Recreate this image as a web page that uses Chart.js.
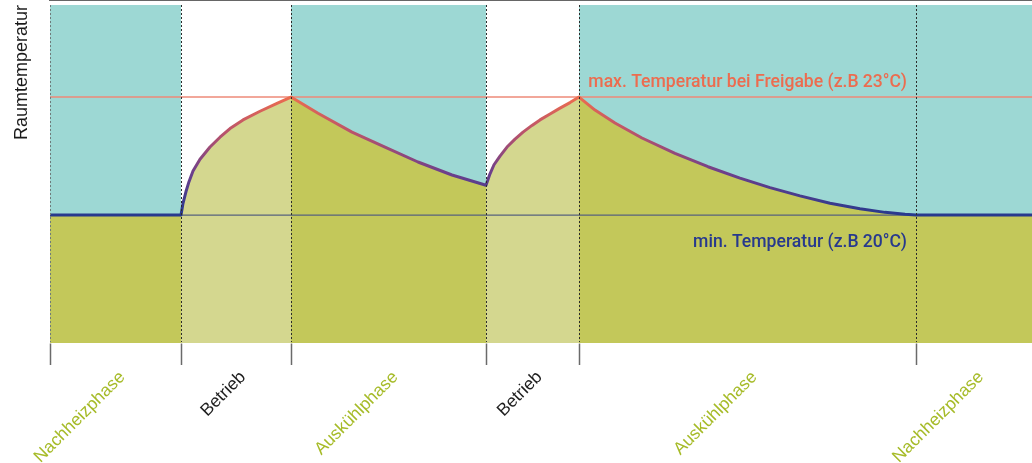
<!DOCTYPE html>
<html>
<head>
<meta charset="utf-8">
<script src="https://cdn.jsdelivr.net/npm/chart.js@4"></script>
<style>
  body { margin: 0; background: #fff; }
  #wrap { width: 1032px; height: 463px; position: relative; }
</style>
</head>
<body>
<div id="wrap"><canvas id="c"></canvas></div>
<script>
// phase boundaries (time axis) and names
const phaseBounds = [0, 131, 241, 436, 529, 866, 982];
const phaseNames = ['Nachheizphase', 'Betrieb', 'Auskühlphase', 'Betrieb', 'Auskühlphase', 'Nachheizphase'];

// room temperature curve
const timeX = [0, 131, 133, 136, 139, 143, 150, 160, 170, 180, 193, 210, 227, 241,
  268, 302, 335, 368, 402, 436,
  440, 444, 450, 457, 465, 473, 482, 490, 500, 510, 520, 529,
  545, 565, 592, 625, 658, 690, 720, 750, 780, 810, 835, 855, 866, 982];
const tempY = [20, 20, 20.3, 20.6, 20.85, 21.12, 21.42, 21.73, 21.98, 22.2, 22.42, 22.64, 22.84, 23.0,
  22.59, 22.11, 21.73, 21.35, 21.02, 20.76,
  21.05, 21.28, 21.5, 21.73, 21.93, 22.11, 22.28, 22.42, 22.57, 22.72, 22.86, 23.0,
  22.67, 22.34, 21.96, 21.57, 21.23, 20.94, 20.70, 20.49, 20.30, 20.16, 20.07, 20.02, 20.0, 20];

const minTemp = 20;
const maxTemp = 23;
const labelMax = 'max. Temperatur bei Freigabe (z.B 23°C)';
const labelMin = 'min. Temperatur (z.B 20°C)';

const TEAL = '#9dd8d4', OLIVE = '#c3c85a', OLIVE_LIGHT = '#d4d78f';
const NAVY = '#27398d', CORAL = '#ec6c4f', GREEN_TXT = '#a6bb28';

const curve = timeX.map((x, i) => ({ x: x, y: tempY[i] }));
// label anchors sit a little right of each phase middle
const phaseMid = phaseNames.map((n, i) => (phaseBounds[i] + phaseBounds[i + 1]) / 2 + 7);

function inBetrieb(x) {
  for (let i = 0; i < phaseNames.length; i++) {
    if (phaseNames[i] === 'Betrieb' && x >= phaseBounds[i] && x < phaseBounds[i + 1]) return true;
  }
  return false;
}

let grad = null;
function lineGradient(ctx) {
  const chart = ctx.chart;
  const area = chart.chartArea;
  if (!area) return NAVY;
  const y = chart.scales.y;
  if (!grad) {
    const g = chart.ctx.createLinearGradient(0, y.getPixelForValue(minTemp), 0, y.getPixelForValue(maxTemp));
    g.addColorStop(0, NAVY);
    g.addColorStop(0.35, '#6b3f8c');
    g.addColorStop(0.7, '#b9536b');
    g.addColorStop(1, CORAL);
    grad = g;
  }
  return grad;
}

const textPlugin = {
  id: 'refTexts',
  afterDraw(chart) {
    const { ctx, scales: { x, y } } = chart;
    const right = x.getPixelForValue(phaseBounds[5]) - 9;
    ctx.save();
    ctx.font = '500 17.6px Roboto, "Noto Sans", sans-serif';
    ctx.textAlign = 'right';
    ctx.textBaseline = 'alphabetic';
    ctx.fillStyle = CORAL;
    ctx.fillText(labelMax, right, y.getPixelForValue(maxTemp) - 10);
    ctx.fillStyle = NAVY;
    ctx.fillText(labelMin, right, y.getPixelForValue(minTemp) + 32);
    ctx.restore();
  }
};

new Chart(document.getElementById('c'), {
  type: 'line',
  data: {
    datasets: [
      {
        label: 'Raumtemperatur',
        data: curve,
        order: 0,
        borderColor: lineGradient,
        borderWidth: 3,
        borderJoinStyle: 'round',
        borderCapStyle: 'round',
        pointRadius: 0,
        fill: false,
        tension: 0
      },
      {
        label: 'max',
        data: [{ x: phaseBounds[0], y: maxTemp }, { x: phaseBounds[6], y: maxTemp }],
        order: 1,
        borderColor: '#ee8a78',
        borderWidth: 1.5,
        pointRadius: 0,
        fill: false
      },
      {
        label: 'min',
        data: [{ x: phaseBounds[0], y: minTemp }, { x: phaseBounds[6], y: minTemp }],
        order: 2,
        borderColor: '#56627e',
        borderWidth: 1.2,
        pointRadius: 0,
        fill: false
      },
      {
        label: 'oben',
        data: curve,
        order: 3,
        borderWidth: 0,
        pointRadius: 0,
        backgroundColor: TEAL,
        fill: 'end',
        segment: {
          backgroundColor: c => inBetrieb(c.p0.parsed.x) ? 'rgba(255,255,255,0)' : TEAL
        }
      },
      {
        label: 'unten',
        data: curve,
        order: 4,
        borderWidth: 0,
        pointRadius: 0,
        backgroundColor: OLIVE,
        fill: 'start',
        segment: {
          backgroundColor: c => inBetrieb(c.p0.parsed.x) ? OLIVE_LIGHT : OLIVE
        }
      }
    ]
  },
  options: {
    responsive: true,
    maintainAspectRatio: false,
    animation: false,
    layout: { padding: { top: 5, left: 0, right: 0, bottom: 0 } },
    plugins: { legend: { display: false }, tooltip: { enabled: false } },
    scales: {
      x: {
        type: 'linear',
        position: 'bottom',
        min: phaseBounds[0],
        max: phaseBounds[6],
        afterBuildTicks: s => { s.ticks = phaseBounds.map(v => ({ value: v })); },
        afterFit: s => { s.height = 22; s.paddingLeft = 0; s.paddingRight = 0; },
        ticks: { display: false },
        grid: {
          display: true,
          z: 1,
          drawOnChartArea: true,
          drawTicks: true,
          tickLength: 22,
          lineWidth: 1,
          color: c => c.index === 0 ? '#6f7b7b' : (c.index === phaseBounds.length - 1 ? 'rgba(0,0,0,0)' : '#2b2b2b'),
          tickColor: c => c.index === phaseBounds.length - 1 ? 'rgba(0,0,0,0)' : '#6a6a6a',
          tickWidth: 1.5,
          tickBorderDash: []
        },
        border: { display: true, color: '#333', width: 1.5, dash: [2, 2] }
      },
      xl: {
        type: 'linear',
        position: 'bottom',
        weight: 1,
        min: phaseBounds[0],
        max: phaseBounds[6],
        afterBuildTicks: s => { s.ticks = phaseMid.map(v => ({ value: v })); },
        afterFit: s => { s.height = 98; s.paddingLeft = 0; s.paddingRight = 0; },
        grid: { display: false, drawTicks: false },
        border: { display: false },
        ticks: {
          autoSkip: false,
          minRotation: 45,
          maxRotation: 45,
          padding: 2,
          font: { family: '"Liberation Sans", Arial, sans-serif', size: 17.5 },
          color: c => phaseNames[c.index] === 'Betrieb' ? '#1e1e1e' : GREEN_TXT,
          callback: (v, i) => phaseNames[i]
        }
      },
      y: {
        min: 16.75,
        max: 25.34,
        afterFit: s => { s.width = 50; },
        ticks: { display: false },
        grid: { display: false },
        border: { display: false },
        title: {
          display: true,
          text: 'Raumtemperatur',
          align: 'end',
          color: '#1a1a1a',
          padding: { top: 11, bottom: 0 },
          font: { family: '"Liberation Sans", Arial, sans-serif', size: 18 }
        }
      }
    }
  },
  plugins: [textPlugin]
});
</script>
</body>
</html>
